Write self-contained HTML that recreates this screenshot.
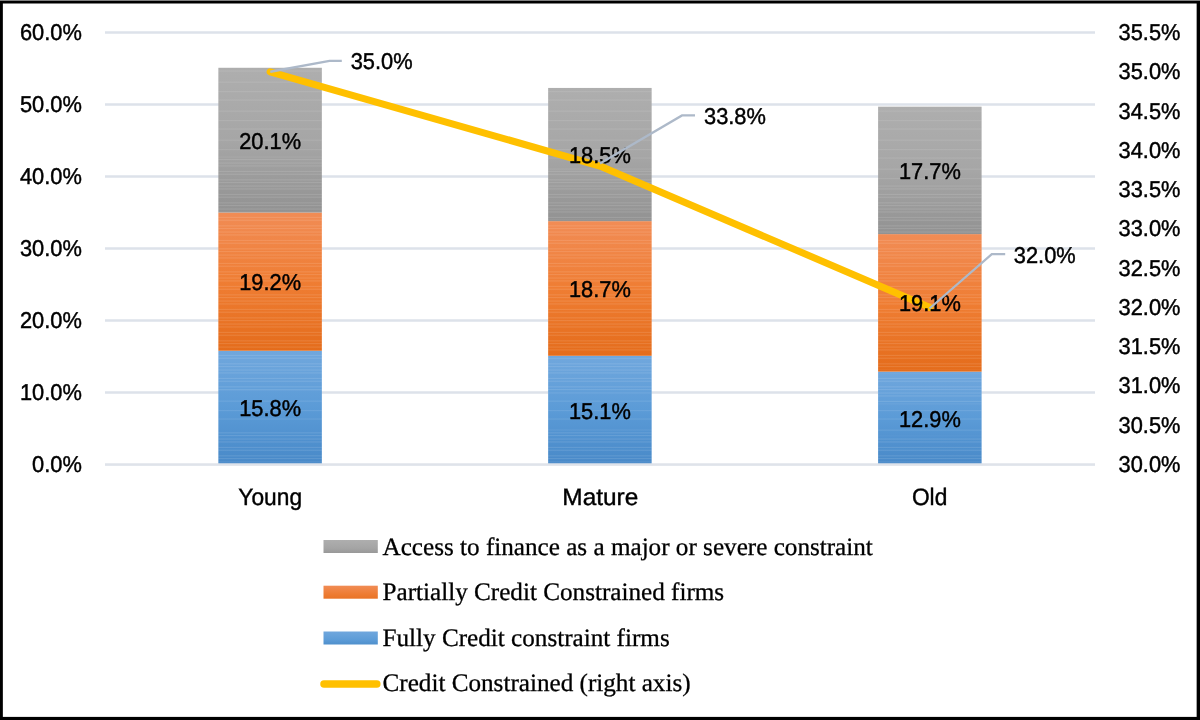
<!DOCTYPE html>
<html lang="en"><head><meta charset="utf-8"><title>Credit constraints by firm age</title>
<style>
html,body{margin:0;padding:0;background:#fff;}
body{width:1200px;height:720px;overflow:hidden;position:relative;}
svg{position:absolute;left:0;top:0;display:block;text-rendering:geometricPrecision;}
.s{font-family:"Liberation Sans", sans-serif;font-size:22.8px;fill:#000;stroke:#000;stroke-width:0.45px;}
.c{font-family:"Liberation Sans", sans-serif;font-size:23.8px;fill:#000;stroke:#000;stroke-width:0.4px;}
.t{font-family:"Liberation Serif", serif;font-size:25.16px;fill:#000;stroke:#000;stroke-width:0.3px;}
</style></head><body>
<svg width="1200" height="720" viewBox="0 0 1200 720">
<defs>
<linearGradient id="gGray" x1="0" y1="0" x2="0" y2="1"><stop offset="0" stop-color="#aeaeae"/><stop offset="0.5" stop-color="#a6a6a6"/><stop offset="1" stop-color="#929292"/></linearGradient>
<linearGradient id="gOr" x1="0" y1="0" x2="0" y2="1"><stop offset="0" stop-color="#f18c55"/><stop offset="0.5" stop-color="#ef7d33"/><stop offset="1" stop-color="#e46c1b"/></linearGradient>
<linearGradient id="gBl" x1="0" y1="0" x2="0" y2="1"><stop offset="0" stop-color="#70a7dd"/><stop offset="0.5" stop-color="#5b9bd7"/><stop offset="1" stop-color="#4889c8"/></linearGradient>
<pattern id="bandD" x="0" y="0" width="200" height="23" patternUnits="userSpaceOnUse"><rect x="0" y="1.5" width="200" height="1.1" fill="#fff" fill-opacity="0.11"/><rect x="0" y="4.4" width="200" height="1.1" fill="#fff" fill-opacity="0.11"/><rect x="0" y="9.9" width="200" height="1.1" fill="#fff" fill-opacity="0.11"/><rect x="0" y="12.7" width="200" height="1.1" fill="#fff" fill-opacity="0.11"/><rect x="0" y="18.3" width="200" height="1.1" fill="#fff" fill-opacity="0.11"/><rect x="0" y="21" width="200" height="1.1" fill="#fff" fill-opacity="0.11"/></pattern>
<pattern id="bandS" x="0" y="0" width="200" height="29" patternUnits="userSpaceOnUse"><rect x="0" y="4" width="200" height="1.1" fill="#fff" fill-opacity="0.09"/><rect x="0" y="12.5" width="200" height="1.1" fill="#fff" fill-opacity="0.09"/><rect x="0" y="23.6" width="200" height="1.1" fill="#fff" fill-opacity="0.09"/></pattern>
<linearGradient id="lGray" x1="0" y1="0" x2="0" y2="1"><stop offset="0" stop-color="#aeaeae"/><stop offset="0.6" stop-color="#a5a5a5"/><stop offset="1" stop-color="#989898"/></linearGradient>
<linearGradient id="lOr" x1="0" y1="0" x2="0" y2="1"><stop offset="0" stop-color="#f18c55"/><stop offset="0.6" stop-color="#ee7d35"/><stop offset="1" stop-color="#e97326"/></linearGradient>
<linearGradient id="lBl" x1="0" y1="0" x2="0" y2="1"><stop offset="0" stop-color="#70a7dd"/><stop offset="0.6" stop-color="#5e9dd8"/><stop offset="1" stop-color="#4f8fcc"/></linearGradient>
</defs>
<rect x="0" y="0" width="1200" height="720" fill="#fff"/>
<rect x="105" y="391.25" width="990" height="2.5" fill="#dde2ea"/>
<rect x="105" y="319.25" width="990" height="2.5" fill="#dde2ea"/>
<rect x="105" y="247.25" width="990" height="2.5" fill="#dde2ea"/>
<rect x="105" y="175.25" width="990" height="2.5" fill="#dde2ea"/>
<rect x="105" y="103.25" width="990" height="2.5" fill="#dde2ea"/>
<rect x="105" y="31.25" width="990" height="2.5" fill="#dde2ea"/>
<rect x="218.35" y="350.74" width="103.5" height="113.76" fill="url(#gBl)"/>
<rect x="218.35" y="352.74" width="103.5" height="37.54" fill="url(#bandD)"/>
<rect x="218.35" y="390.28" width="103.5" height="38.68" fill="url(#bandS)"/>
<rect x="218.35" y="428.96" width="103.5" height="33.54" fill="url(#bandD)"/>
<rect x="218.35" y="212.50" width="103.5" height="138.24" fill="url(#gOr)"/>
<rect x="218.35" y="214.50" width="103.5" height="134.24" fill="url(#bandD)"/>
<rect x="218.35" y="67.78" width="103.5" height="144.72" fill="url(#gGray)"/>
<rect x="218.35" y="69.78" width="103.5" height="86.83" fill="url(#bandS)"/>
<rect x="218.35" y="156.61" width="103.5" height="54.89" fill="url(#bandD)"/>
<rect x="548.15" y="355.78" width="103.5" height="108.72" fill="url(#gBl)"/>
<rect x="548.15" y="357.78" width="103.5" height="35.88" fill="url(#bandD)"/>
<rect x="548.15" y="393.66" width="103.5" height="36.96" fill="url(#bandS)"/>
<rect x="548.15" y="430.62" width="103.5" height="31.88" fill="url(#bandD)"/>
<rect x="548.15" y="221.14" width="103.5" height="134.64" fill="url(#gOr)"/>
<rect x="548.15" y="223.14" width="103.5" height="130.64" fill="url(#bandD)"/>
<rect x="548.15" y="87.94" width="103.5" height="133.20" fill="url(#gGray)"/>
<rect x="548.15" y="89.94" width="103.5" height="79.92" fill="url(#bandS)"/>
<rect x="548.15" y="169.86" width="103.5" height="50.28" fill="url(#bandD)"/>
<rect x="878.10" y="371.62" width="103.5" height="92.88" fill="url(#gBl)"/>
<rect x="878.10" y="373.62" width="103.5" height="30.65" fill="url(#bandD)"/>
<rect x="878.10" y="404.27" width="103.5" height="31.58" fill="url(#bandS)"/>
<rect x="878.10" y="435.85" width="103.5" height="26.65" fill="url(#bandD)"/>
<rect x="878.10" y="234.10" width="103.5" height="137.52" fill="url(#gOr)"/>
<rect x="878.10" y="236.10" width="103.5" height="133.52" fill="url(#bandD)"/>
<rect x="878.10" y="106.66" width="103.5" height="127.44" fill="url(#gGray)"/>
<rect x="878.10" y="108.66" width="103.5" height="76.46" fill="url(#bandS)"/>
<rect x="878.10" y="185.12" width="103.5" height="47.98" fill="url(#bandD)"/>
<rect x="105" y="463.25" width="990" height="2.6" fill="#dfe3ea"/>
<polyline points="270.1,71.77 599.9,166.03 929.9,307.41" fill="none" stroke="#ffc000" stroke-width="7" stroke-linecap="round" stroke-linejoin="round"/>
<text class="s" transform="translate(270.10,416.12) scale(0.957,1)" text-anchor="middle">15.8%</text>
<text class="s" transform="translate(270.10,290.12) scale(0.957,1)" text-anchor="middle">19.2%</text>
<text class="s" transform="translate(270.10,148.64) scale(0.957,1)" text-anchor="middle">20.1%</text>
<text class="s" transform="translate(599.90,418.64) scale(0.957,1)" text-anchor="middle">15.1%</text>
<text class="s" transform="translate(599.90,296.96) scale(0.957,1)" text-anchor="middle">18.7%</text>
<text class="s" transform="translate(599.90,163.04) scale(0.957,1)" text-anchor="middle">18.5%</text>
<text class="s" transform="translate(929.85,426.56) scale(0.957,1)" text-anchor="middle">12.9%</text>
<text class="s" transform="translate(929.85,311.36) scale(0.957,1)" text-anchor="middle">19.1%</text>
<text class="s" transform="translate(929.85,178.88) scale(0.957,1)" text-anchor="middle">17.7%</text>
<polyline points="270.25,71.75 329.5,60.8 341.8,60.8" fill="none" stroke="#adb9c9" stroke-width="2.3"/>
<text class="s" transform="translate(350.70,69.30) scale(0.957,1)" text-anchor="start">35.0%</text>
<polyline points="600,163.6 682,115.4 695,115.4" fill="none" stroke="#adb9c9" stroke-width="2.3"/>
<text class="s" transform="translate(704.00,123.90) scale(0.957,1)" text-anchor="start">33.8%</text>
<polyline points="929.5,308.5 991.8,254.2 1005.2,254.2" fill="none" stroke="#adb9c9" stroke-width="2.3"/>
<text class="s" transform="translate(1013.80,262.70) scale(0.957,1)" text-anchor="start">32.0%</text>
<text class="s" transform="translate(81.80,472.00) scale(0.957,1)" text-anchor="end">0.0%</text>
<text class="s" transform="translate(81.80,400.00) scale(0.957,1)" text-anchor="end">10.0%</text>
<text class="s" transform="translate(81.80,328.00) scale(0.957,1)" text-anchor="end">20.0%</text>
<text class="s" transform="translate(81.80,256.00) scale(0.957,1)" text-anchor="end">30.0%</text>
<text class="s" transform="translate(81.80,184.00) scale(0.957,1)" text-anchor="end">40.0%</text>
<text class="s" transform="translate(81.80,112.00) scale(0.957,1)" text-anchor="end">50.0%</text>
<text class="s" transform="translate(81.80,40.00) scale(0.957,1)" text-anchor="end">60.0%</text>
<text class="s" transform="translate(1118.60,472.00) scale(0.957,1)" text-anchor="start">30.0%</text>
<text class="s" transform="translate(1118.60,432.73) scale(0.957,1)" text-anchor="start">30.5%</text>
<text class="s" transform="translate(1118.60,393.45) scale(0.957,1)" text-anchor="start">31.0%</text>
<text class="s" transform="translate(1118.60,354.18) scale(0.957,1)" text-anchor="start">31.5%</text>
<text class="s" transform="translate(1118.60,314.91) scale(0.957,1)" text-anchor="start">32.0%</text>
<text class="s" transform="translate(1118.60,275.64) scale(0.957,1)" text-anchor="start">32.5%</text>
<text class="s" transform="translate(1118.60,236.36) scale(0.957,1)" text-anchor="start">33.0%</text>
<text class="s" transform="translate(1118.60,197.09) scale(0.957,1)" text-anchor="start">33.5%</text>
<text class="s" transform="translate(1118.60,157.82) scale(0.957,1)" text-anchor="start">34.0%</text>
<text class="s" transform="translate(1118.60,118.55) scale(0.957,1)" text-anchor="start">34.5%</text>
<text class="s" transform="translate(1118.60,79.27) scale(0.957,1)" text-anchor="start">35.0%</text>
<text class="s" transform="translate(1118.60,40.00) scale(0.957,1)" text-anchor="start">35.5%</text>
<text class="c" transform="translate(270.20,504.50) scale(0.956,1)" text-anchor="middle">Young</text>
<text class="c" transform="translate(600.30,504.50) scale(1.025,1)" text-anchor="middle">Mature</text>
<text class="c" transform="translate(929.60,504.50) scale(0.956,1)" text-anchor="middle">Old</text>
<rect x="323.5" y="540" width="54.3" height="13" fill="url(#lGray)"/>
<text class="t" x="382.5" y="554.75">Access to finance as a major or severe constraint</text>
<rect x="323.5" y="585.7" width="54.3" height="13" fill="url(#lOr)"/>
<text class="t" x="382.5" y="600.25">Partially Credit Constrained firms</text>
<rect x="323.5" y="631.5" width="54.3" height="13" fill="url(#lBl)"/>
<text class="t" x="382.5" y="645.7">Fully Credit constraint firms</text>
<line x1="324" y1="684" x2="376.8" y2="684" stroke="#ffc000" stroke-width="7.5" stroke-linecap="round"/>
<text class="t" x="382.5" y="691.25">Credit Constrained (right axis)</text>
<rect x="0" y="1" width="1200" height="2.5" fill="#000"/>
<rect x="0" y="1" width="2.85" height="719" fill="#000"/>
<rect x="1196.65" y="1" width="3.35" height="719" fill="#000"/>
<rect x="0" y="716.9" width="1200" height="3.1" fill="#000"/>
<rect x="0" y="0" width="1200" height="1" fill="#808080"/>
</svg>
</body></html>
